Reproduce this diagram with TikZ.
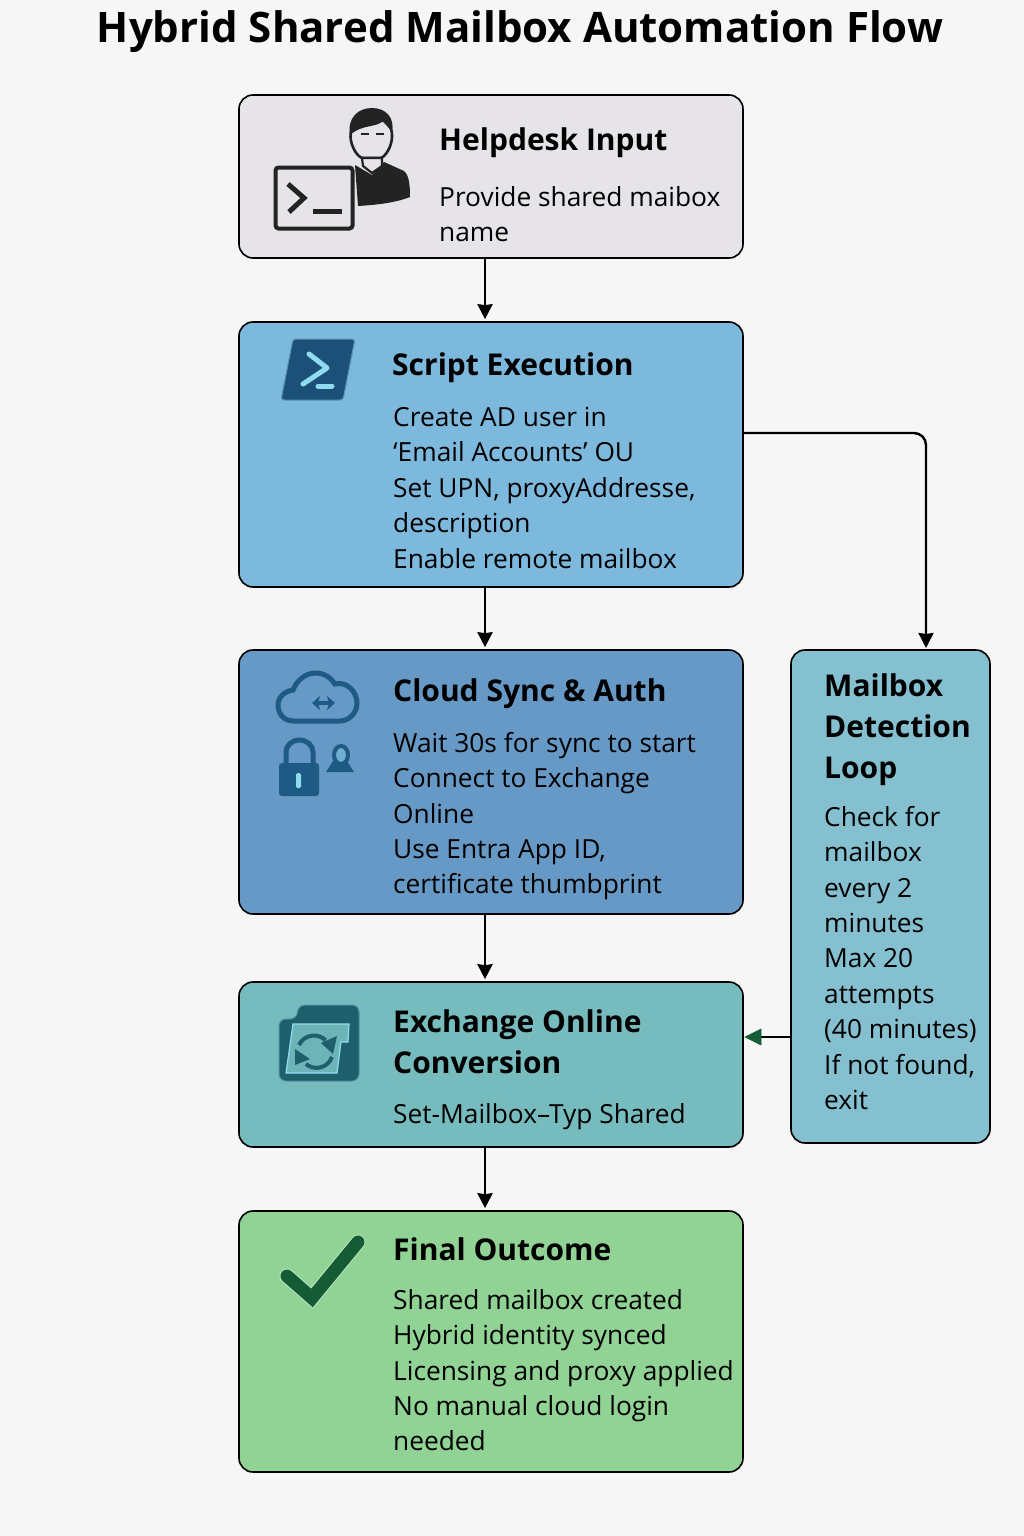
\documentclass[tikz,border=0pt]{standalone}
\usepackage{fontspec}
\setmainfont{Open Sans}
\usetikzlibrary{arrows.meta,positioning}
\definecolor{pagebg}{HTML}{F6F6F6}
\definecolor{inputfill}{HTML}{E6E4E8}
\definecolor{scriptfill}{HTML}{7DB8DD}
\definecolor{cloudfill}{HTML}{6699C5}
\definecolor{convfill}{HTML}{76BBBD}
\definecolor{loopfill}{HTML}{84C0D0}
\definecolor{finalfill}{HTML}{90D394}
\definecolor{iconink}{HTML}{232323}
\definecolor{psblue}{HTML}{1D5079}
\definecolor{psedge}{HTML}{8FDCF0}
\definecolor{cloudink}{HTML}{1F5A85}
\definecolor{convink}{HTML}{1F5F6C}
\definecolor{convpaper}{HTML}{6DB4B9}
\definecolor{checkink}{HTML}{155C36}
\tikzstyle{block} = [rectangle, draw=black, line width=1.6pt, rounded corners=14pt, inner sep=0pt]
\tikzstyle{heading} = [anchor=north west, inner sep=0pt, align=left, font=\fontsize{30}{41}\selectfont\bfseries]
\tikzstyle{bodytext} = [anchor=north west, inner sep=0pt, align=left, font=\fontsize{26.3}{35.4}\selectfont]
\tikzstyle{flow} = [line width=2.8pt, shorten >=2pt, -{Stealth[length=15pt,width=15pt,inset=1pt]}]

\begin{document}
\begin{tikzpicture}[x=1pt,y=1pt]
  \useasboundingbox (0,0) rectangle (1024,-1536);
  \fill[pagebg] (0,0) rectangle (1024,-1536);
  \draw (520.0pt, -32.0pt)node[inner sep=0pt, font=\fontsize{42}{50}\selectfont\bfseries](title){Hybrid Shared Mailbox Automation Flow};

  \draw (491.0pt, -176.5pt)node[block, fill=inputfill, minimum width=504pt, minimum height=163pt](input){};
  \draw (491.0pt, -454.5pt)node[block, fill=scriptfill, minimum width=504pt, minimum height=265pt](script){};
  \draw (491.0pt, -782.0pt)node[block, fill=cloudfill, minimum width=504pt, minimum height=264pt](cloud){};
  \draw (491.0pt, -1064.5pt)node[block, fill=convfill, minimum width=504pt, minimum height=165pt](conv){};
  \draw (491.0pt, -1341.5pt)node[block, fill=finalfill, minimum width=504pt, minimum height=261pt](final){};
  \draw (890.5pt, -896.5pt)node[block, fill=loopfill, minimum width=199pt, minimum height=493pt](loop){};

  \draw (439.0pt, -128.0pt)node[heading](inputhead){Helpdesk Input};
  \draw (439.0pt, -186.0pt)node[bodytext](inputtext){Provide shared maibox\\name};
  \draw (392.0pt, -353.0pt)node[heading](scripthead){Script Execution};
  \draw (393.0pt, -407.0pt)node[bodytext](scripttext){Create AD user in\\‘Email Accounts’ OU\\Set UPN, proxyAddresse,\\description\\Enable remote mailbox};
  \draw (393.0pt, -678.0pt)node[heading](cloudhead){Cloud Sync \& Auth};
  \draw (393.0pt, -732.0pt)node[bodytext](cloudtext){Wait 30s for sync to start\\Connect to Exchange\\Online\\Use Entra App ID,\\certificate thumbprint};
  \draw (393.0pt, -1009.0pt)node[heading](convhead){Exchange Online\\Conversion};
  \draw (393.0pt, -1103.0pt)node[bodytext](convtext){Set-Mailbox–Typ Shared};
  \draw (393.0pt, -1237.0pt)node[heading](finalhead){Final Outcome};
  \draw (393.0pt, -1289.0pt)node[bodytext](finaltext){Shared mailbox created\\Hybrid identity synced\\Licensing and proxy applied\\No manual cloud login\\needed};
  \draw (824.0pt, -673.0pt)node[heading](loophead){Mailbox\\Detection\\Loop};
  \draw (824.0pt, -806.0pt)node[bodytext](looptext){Check for\\mailbox\\every 2\\minutes\\Max 20\\attempts\\(40 minutes)\\If not found,\\exit};

  \coordinate (trunk) at (485pt, 0pt);
  \coordinate (branchstart) at (743pt, -433pt);
  \coordinate (branchend) at (926pt, -650pt);
  \coordinate (backstart) at (791pt, -1037pt);
  \coordinate (backend) at (745pt, -1037pt);
  \draw[flow] (input.south -| trunk) -- (script.north -| trunk);
  \draw[flow] (script.south -| trunk) -- (cloud.north -| trunk);
  \draw[flow] (cloud.south -| trunk) -- (conv.north -| trunk);
  \draw[flow] (conv.south -| trunk) -- (final.north -| trunk);
  \draw[flow, line width=2.4pt, rounded corners=12pt] (branchstart) -| (branchend);
  \draw[line width=2.8pt] (backstart) -- ++(-30pt, 0pt);
  \draw[checkink, fill=checkink, line width=0.6pt] (backend) -- ++(16pt, 8pt) -- ++(0pt, -16pt) -- cycle;

  \fill[iconink] (355,-165) -- (372,-175) -- (384,-162) -- (404,-171) .. controls (409,-175) and (410,-185) .. (410,-197) .. controls (395,-203) and (375,-205) .. (358,-206) -- cycle;
  \draw[iconink, fill=inputfill, line width=2.6pt] (350.5,-137) .. controls (350,-125) and (360,-118) .. (371,-118) .. controls (384,-118) and (393,-125) .. (392,-137) .. controls (392,-146) and (385,-158) .. (380,-158) -- (363,-158) .. controls (358,-158) and (351,-147) .. (350.5,-137) -- cycle;
  \fill[iconink] (350,-135) .. controls (347,-118) and (358,-108) .. (372,-108) .. controls (386,-108) and (395,-118) .. (392,-132) .. controls (389,-127) and (385,-125) .. (383,-121) .. controls (376,-128) and (362,-124) .. (350,-135) -- cycle;
  \draw[iconink, line width=2pt] (361,-134) -- (369,-134) (376,-134) -- (384,-134);
  \draw[iconink, fill=inputfill, line width=2.2pt] (362,-158) -- (363,-166) -- (372,-173) -- (382,-166) -- (382,-158) -- cycle;
  \draw[iconink, fill=inputfill, line width=4pt, rounded corners=3pt] (275.5,-167.5) rectangle (352.5,-228.5);
  \draw[iconink, line width=5pt] (288,-184) -- (304,-198) -- (289,-212);
  \draw[iconink, line width=5pt] (313,-211) -- (342,-211);

  \draw[psedge!50!psblue, fill=psblue, line width=1pt, rounded corners=3pt] (293,-339) -- (355,-339) -- (343,-400) -- (281,-400) -- cycle;
  \draw[psedge, line width=5pt, line cap=round, line join=round] (309,-354) -- (327,-368) -- (303,-384);
  \draw[psedge, line width=5pt, line cap=round] (318,-386) -- (332,-386);

  \draw[cloudink, line width=5pt] (294,-721) .. controls (282,-721) and (278,-712) .. (278,-705) .. controls (278,-697) and (285,-691) .. (293,-690) .. controls (297,-680) and (306,-673) .. (315,-673) .. controls (325,-673) and (331,-678) .. (335,-684) .. controls (347,-681) and (357,-692) .. (357,-703) .. controls (357,-714) and (348,-721) .. (340,-721) -- cycle;
  \draw[cloudink, line width=3.5pt, {Stealth[length=8pt,width=14pt,inset=2pt]}-{Stealth[length=8pt,width=14pt,inset=2pt]}] (312,-703) -- (335,-703);
  \draw[cloudink, line width=5pt] (286,-764) -- (286,-752) arc[start angle=180, end angle=0, x radius=13.5, y radius=12] -- (313,-764);
  \fill[cloudink, rounded corners=3pt] (279,-763) rectangle (319,-796);
  \fill[psedge, rounded corners=1.5pt] (296,-773) rectangle (301,-788);
  \fill[cloudink] (326,-772) -- (333,-761) -- (347,-761) -- (354,-772) -- cycle;
  \draw[cloudink, fill=cloudfill!70!psedge, line width=4pt] (341,-755) ellipse (7 and 9);

  \draw[psedge!40!convink, fill=convink, line width=1pt, rounded corners=7pt] (279,-1019) -- (297,-1019) -- (298,-1005) -- (359,-1005) -- (359,-1081) -- (279,-1081) -- cycle;
  \draw[psedge, fill=convpaper, line width=1.2pt] (293,-1024) -- (349,-1024) -- (348,-1042) -- (341,-1042) -- (337,-1073) -- (286,-1073) -- cycle;
  \draw[convink, line width=4pt] (299,-1045) arc[start angle=155, end angle=45, radius=16.5];
  \fill[convink] (337,-1036) -- (333,-1054) -- (321,-1043) -- cycle;
  \draw[convink, line width=4pt] (332,-1057) arc[start angle=-20, end angle=-130, radius=16.5];
  \fill[convink] (295,-1049) -- (310,-1059) -- (295,-1065) -- cycle;

  \draw[finalfill!60!white, line width=15pt, line cap=round, line join=miter] (287,-1276) -- (312,-1298) -- (358,-1242);
  \draw[checkink, line width=13pt, line cap=round, line join=miter] (287,-1276) -- (312,-1298) -- (358,-1242);
\end{tikzpicture}
\end{document}
